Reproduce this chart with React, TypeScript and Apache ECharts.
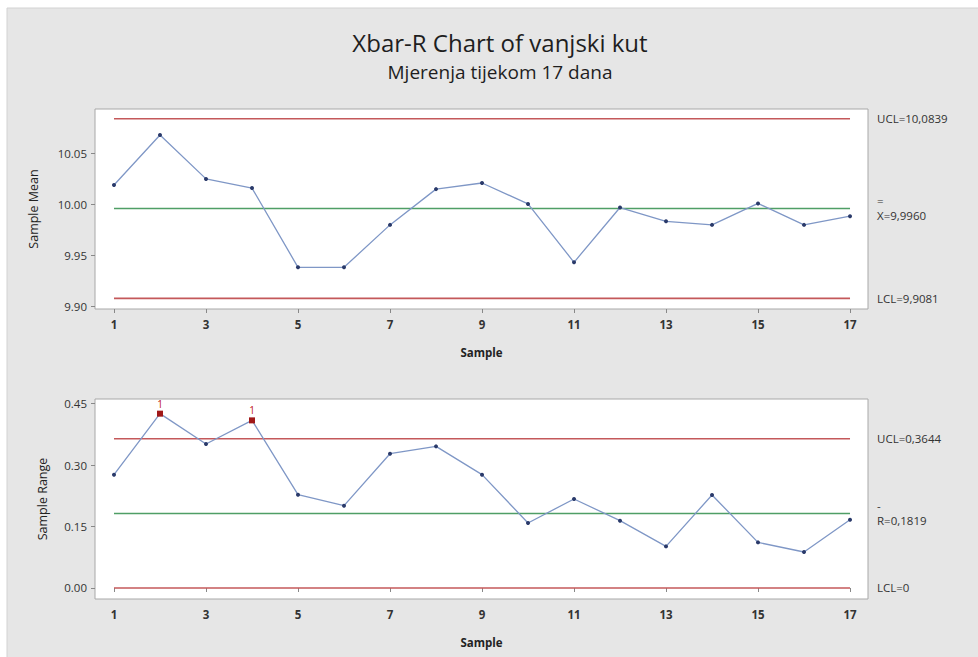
import React, { useEffect, useRef } from "react";
import * as echarts from "echarts";

const sampleNumbers = [1, 2, 3, 4, 5, 6, 7, 8, 9, 10, 11, 12, 13, 14, 15, 16, 17];
const sampleMeans = [10.019, 10.068, 10.025, 10.016, 9.9385, 9.9385, 9.98, 10.015, 10.021, 10.0005, 9.9434, 9.997, 9.9835, 9.98, 10.001, 9.98, 9.9885];
const sampleRanges = [0.2768, 0.4258, 0.3517, 0.4094, 0.2279, 0.201, 0.328, 0.3459, 0.2768, 0.1588, 0.2174, 0.1644, 0.1016, 0.2272, 0.1114, 0.0879, 0.1668];
const rangeTestFlags = ["", "1", "", "1", "", "", "", "", "", "", "", "", "", "", "", "", ""];

const meanUCL = 10.0839;
const meanCenter = 9.996;
const meanLCL = 9.9081;
const rangeUCL = 0.3644;
const rangeCenter = 0.1819;
const rangeLCL = 0;

const sampleTicks = [1, 3, 5, 7, 9, 11, 13, 15, 17];
const meanTicks = [9.9, 9.95, 10.0, 10.05];
const rangeTicks = [0, 0.15, 0.3, 0.45];

const FONT = "'Open Sans', 'Noto Sans', sans-serif";
const RED = "#c4585a";
const GREEN = "#4f9e66";
const LINE = "#7f97c6";
const DOT = "#2a3a6a";

function limitSeries(axis: number, x0: number, x1: number, y: number, color: string, label: string) {
  return {
    type: "line",
    xAxisIndex: axis,
    yAxisIndex: axis,
    data: [
      [x0, y],
      [x1, y],
    ],
    symbol: "none",
    silent: true,
    z: 2,
    lineStyle: { color, width: 1.6 },
    itemStyle: { color },
    endLabel: {
      show: true,
      distance: 27,
      formatter: label,
      color: "#333",
      fontSize: 11.5,
      fontFamily: FONT,
      lineHeight: 16,
      rich: {
        bar: { fontSize: 11.5, color: "#333", fontFamily: FONT, lineHeight: 13 },
        main: { fontSize: 11.5, color: "#333", fontFamily: FONT, lineHeight: 16 },
      },
    },
  };
}

export default function App() {
  const ref = useRef<HTMLDivElement>(null);
  useEffect(() => {
    if (!ref.current) return;
    const chart = echarts.init(ref.current, null, { renderer: "svg" });
    const x0 = sampleNumbers[0];
    const x1 = sampleNumbers[sampleNumbers.length - 1];

    const xAxisCommon = (gridIndex: number) => ({
      type: "value",
      gridIndex,
      min: 0.587,
      max: 17.391,
      name: "Sample",
      nameLocation: "middle",
      nameGap: 37,
      nameTextStyle: { fontSize: 11.5, fontWeight: "bold", color: "#222", fontFamily: FONT },
      splitLine: { show: false },
      axisLine: { show: false },
      axisTick: { show: true, length: 4, lineStyle: { color: "#888" }, customValues: sampleTicks },
      axisLabel: {
        customValues: sampleTicks,
        margin: 9,
        fontSize: 11.5,
        fontWeight: "bold",
        color: "#333",
        fontFamily: FONT,
      },
    });

    const meanSeriesData = sampleNumbers.map((n, i) => [n, sampleMeans[i]]);
    const rangeSeriesData = sampleNumbers.map((n, i) =>
      rangeTestFlags[i]
        ? {
            value: [n, sampleRanges[i]],
            symbol: "rect",
            symbolSize: 6,
            itemStyle: { color: "#a01818" },
            label: {
              show: true,
              position: "top",
              distance: 2,
              formatter: rangeTestFlags[i],
              color: "#c02020",
              fontSize: 10,
              fontFamily: FONT,
            },
          }
        : [n, sampleRanges[i]]
    );

    chart.setOption({
      animation: false,
      backgroundColor: "#ffffff",
      graphic: [
        {
          type: "rect",
          shape: { x: 7, y: 8, width: 980, height: 660 },
          style: { fill: "#e6e6e6", stroke: "#d2d2d2", lineWidth: 1 },
          z: -10,
          silent: true,
        },
        {
          type: "text",
          x: 500,
          y: 42,
          style: {
            text: "Xbar-R Chart of vanjski kut",
            fontSize: 24,
            fontFamily: FONT,
            fill: "#1e1e1e",
            align: "center",
            verticalAlign: "middle",
          },
        },
        {
          type: "text",
          x: 500,
          y: 72,
          style: {
            text: "Mjerenja tijekom 17 dana",
            fontSize: 19,
            fontFamily: FONT,
            fill: "#1e1e1e",
            align: "center",
            verticalAlign: "middle",
          },
        },
      ],
      grid: [
        { left: 95, top: 109, width: 773, height: 200, show: true, backgroundColor: "#ffffff", borderColor: "#a8a8a8", borderWidth: 1 },
        { left: 95, top: 399, width: 773, height: 200, show: true, backgroundColor: "#ffffff", borderColor: "#a8a8a8", borderWidth: 1 },
      ],
      xAxis: [xAxisCommon(0), xAxisCommon(1)],
      yAxis: [
        {
          type: "value",
          gridIndex: 0,
          min: 9.8977,
          max: 10.0934,
          name: "Sample Mean",
          nameLocation: "middle",
          nameGap: 55,
          nameTextStyle: { fontSize: 12.5, color: "#222", fontFamily: FONT },
          splitLine: { show: false },
          axisLine: { show: false },
          axisTick: { show: true, length: 4, lineStyle: { color: "#888" }, customValues: meanTicks },
          axisLabel: {
            customValues: meanTicks,
            margin: 8,
            fontSize: 11.5,
            color: "#333",
            fontFamily: FONT,
            formatter: (v: number) => v.toFixed(2),
          },
        },
        {
          type: "value",
          gridIndex: 1,
          min: -0.0269,
          max: 0.4616,
          name: "Sample Range",
          nameLocation: "middle",
          nameGap: 46,
          nameTextStyle: { fontSize: 12.5, color: "#222", fontFamily: FONT },
          splitLine: { show: false },
          axisLine: { show: false },
          axisTick: { show: true, length: 4, lineStyle: { color: "#888" }, customValues: rangeTicks },
          axisLabel: {
            customValues: rangeTicks,
            margin: 8,
            fontSize: 11.5,
            color: "#333",
            fontFamily: FONT,
            formatter: (v: number) => v.toFixed(2),
          },
        },
      ],
      series: [
        limitSeries(0, x0, x1, meanUCL, RED, "UCL=10,0839"),
        limitSeries(0, x0, x1, meanCenter, GREEN, "{bar|=}\n{main|X=9,9960}"),
        limitSeries(0, x0, x1, meanLCL, RED, "LCL=9,9081"),
        limitSeries(1, x0, x1, rangeUCL, RED, "UCL=0,3644"),
        limitSeries(1, x0, x1, rangeCenter, GREEN, "{bar|-}\n{main|R=0,1819}"),
        limitSeries(1, x0, x1, rangeLCL, RED, "LCL=0"),
        {
          type: "line",
          xAxisIndex: 0,
          yAxisIndex: 0,
          data: meanSeriesData,
          symbol: "circle",
          symbolSize: 4,
          showAllSymbol: true,
          lineStyle: { color: LINE, width: 1.3 },
          itemStyle: { color: DOT },
          z: 5,
        },
        {
          type: "line",
          xAxisIndex: 1,
          yAxisIndex: 1,
          data: rangeSeriesData,
          symbol: "circle",
          symbolSize: 4,
          showAllSymbol: true,
          lineStyle: { color: LINE, width: 1.3 },
          itemStyle: { color: DOT },
          z: 5,
        },
      ],
    });
    return () => chart.dispose();
  }, []);
  return (
    <div
      ref={ref}
      style={{ position: "fixed", left: 0, top: 0, width: 978, height: 657 }}
    />
  );
}
